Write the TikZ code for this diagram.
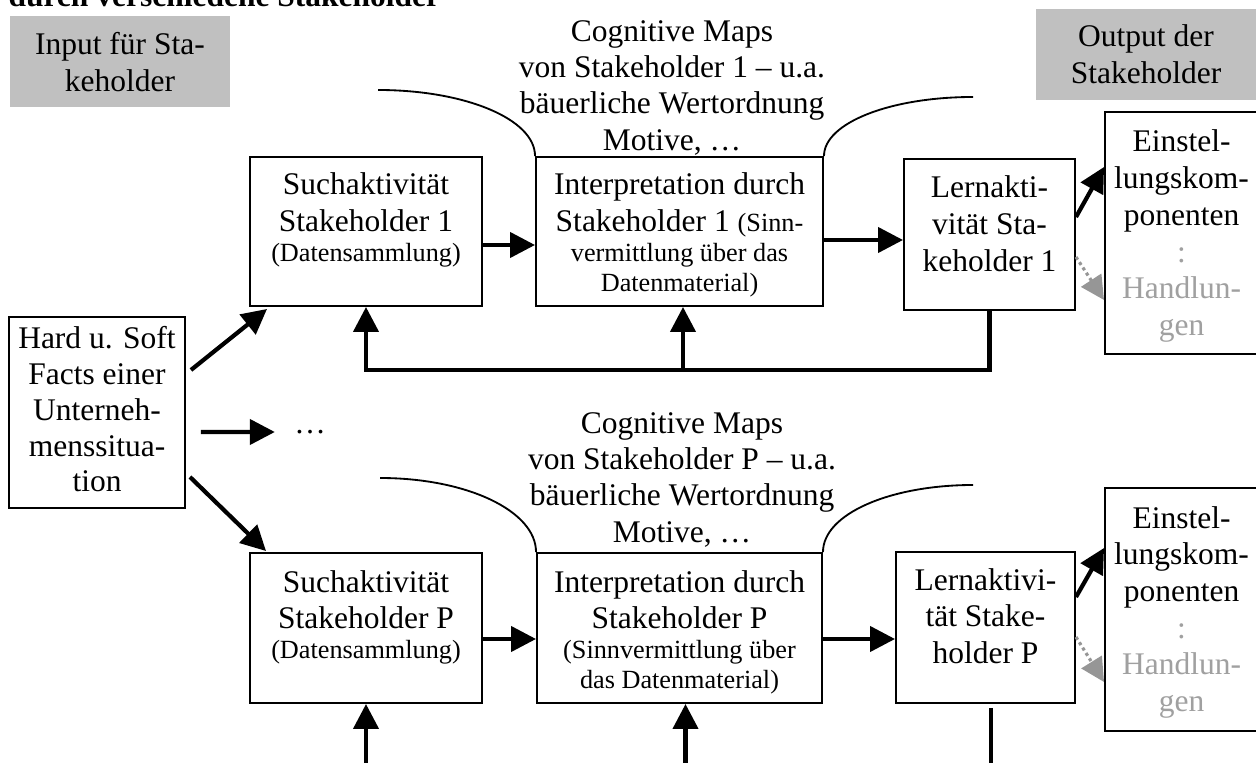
\documentclass[tikz,border=0pt]{standalone}
\usepackage{fontspec}
\setmainfont{Liberation Serif}
\usetikzlibrary{arrows.meta,calc}

% one drawing unit = one pixel of the layout grid
\newdimen\pxu \pxu=0.381pt
\definecolor{panelgray}{RGB}{192,192,192}
\definecolor{softgray}{RGB}{160,160,160}
\definecolor{dotgray}{RGB}{150,150,150}
\newcommand{\mainsz}{\fontsize{12}{14}\selectfont}
\newcommand{\smallsz}{\fontsize{10}{11.45}\selectfont}
% text box: width, height, first baseline below top, content
\newcommand{\tbx}[4]{\parbox[c][#2\pxu][t]{#1\pxu}{\centering\rule{0pt}{#3\pxu}#4\par}}

\tikzset{
  tb/.style={draw, line width=0.75pt, inner sep=0pt, fill=white},
  panel/.style={fill=panelgray, inner sep=0pt},
  plain/.style={inner sep=0pt},
  thk/.style={line width=1.6pt},
  arr/.style={line width=1.6pt, -{Triangle[length=9.5pt,width=9.5pt]}},
  softarr/.style={draw=dotgray, line width=1.2pt, dash pattern=on 1.2pt off 1.2pt,
    -{Triangle[length=9pt,width=9pt,fill=dotgray]}},
  arcline/.style={line width=0.7pt},
}

\begin{document}
\begin{tikzpicture}[x=0.381pt, y=-0.381pt, every node/.append style={font=\mainsz}]
\useasboundingbox (0,0) rectangle (1256,763);
\clip (0,0) rectangle (1256,763);

% heading (partly cut at the top)
\node[plain, anchor=base west, font=\fontsize{12}{14}\selectfont\bfseries] (title) at (8,7)
  {durch verschiedene Stakeholder};

% grey panels
\node[panel] (input) at (120,61.5) {\tbx{220}{91}{39}{Input für Sta-\\keholder}};
\node[panel] (output) at (1146,54.5) {\tbx{220}{91}{38}{Output der\\Stakeholder}};

% captions
\node[plain, anchor=north] (cog1) at (672,10.5)
  {\tbx{380}{155}{30}{\fontsize{12}{13.9}\selectfont Cognitive Maps\\von Stakeholder 1 – u.a.\\bäuerliche Wertordnung\\Motive, …}};
\node[plain, anchor=north] (cogP) at (682,402.5)
  {\tbx{380}{155}{30}{\fontsize{12}{13.9}\selectfont Cognitive Maps\\von Stakeholder P – u.a.\\bäuerliche Wertordnung\\Motive, …}};

% row 1
\node[tb] (such1) at (366,231.5)
  {\tbx{232}{149}{38}{Suchaktivität\\Stakeholder 1\par{\smallsz(Datensammlung)\par}}};
\node[tb] (interp1) at (679.5,231.5)
  {\tbx{287}{149}{38}{Interpretation durch\\Stakeholder 1 {\smallsz(Sinn-}\par{\smallsz vermittlung über das\\Datenmaterial)\par}}};
\node[tb] (lern1) at (989.5,234.5) {\tbx{171}{151}{39}{Lernakti-\\vität Sta-\\keholder 1}};
\node[tb] (einst1) at (1181.5,233)
  {\tbx{153}{242}{40}{Einstel-\\lungskom-\\ponenten\\\textcolor{softgray}{:}\\\textcolor{softgray}{Handlun-}\\\textcolor{softgray}{gen}}};

% source box
\node[tb] (hard) at (97,412.5)
  {\tbx{176}{191}{32}{\fontsize{12}{13.6}\selectfont Hard u. Soft\\Facts einer\\Unterneh-\\menssitua-\\tion}};
\node[plain, inner xsep=7.2pt] (dots) at (310,432) {…};

% row P
\node[tb] (suchP) at (366,628)
  {\tbx{232}{150}{39}{Suchaktivität\\Stakeholder P\par{\smallsz(Datensammlung)\par}}};
\node[tb] (interpP) at (679.5,628)
  {\tbx{285}{150}{39}{Interpretation durch\\Stakeholder P\par{\smallsz(Sinnvermittlung über\\das Datenmaterial)\par}}};
\node[tb] (lernP) at (985.5,627.5) {\tbx{179}{151}{38}{Lernaktivi-\\tät Stake-\\holder P}};
\node[tb] (einstP) at (1181.5,609.5)
  {\tbx{153}{243}{40}{Einstel-\\lungskom-\\ponenten\\\textcolor{softgray}{:}\\\textcolor{softgray}{Handlun-}\\\textcolor{softgray}{gen}}};

% curved caption brackets
\coordinate (a1s) at (378,90);
\coordinate (a1e) at (973,97);
\coordinate (a2s) at (380,478);
\coordinate (a2e) at (973,485);
\draw[arcline] (a1s) .. controls (465,90) and ($(interp1.north west)+(0,-37)$) .. (interp1.north west);
\draw[arcline] (interp1.north east) .. controls ($(interp1.north east)+(0,-33)$) and (890,97) .. (a1e);
\draw[arcline] (a2s) .. controls (467,478) and ($(interpP.north west)+(0,-41)$) .. (interpP.north west);
\draw[arcline] (interpP.north east) .. controls ($(interpP.north east)+(0,-38)$) and (890,485) .. (a2e);

% levels of horizontal connectors
\coordinate (r1a) at (0,245);
\coordinate (r1b) at (0,240);
\coordinate (r2) at (0,639);
\coordinate (fb) at (0,370);
\coordinate (bt) at (0,775);
\coordinate (o1a) at (0,217);
\coordinate (o1b) at (0,167);
\coordinate (o1c) at (0,257);
\coordinate (o1d) at (0,300);
\coordinate (o2a) at (0,597);
\coordinate (o2b) at (0,548);
\coordinate (o2c) at (0,637);
\coordinate (o2d) at (0,682);

% inputs
\draw[arr] ($(hard.east)+(5,-42.5)$) -- ($(such1.south west)+(18,2)$);
\draw[arr] ($(hard.east)+(15,19.5)$) -- (dots.west);
\draw[arr] ($(hard.east)+(4,64.5)$) -- ($(suchP.north west)+(17,-1)$);

% process chains
\draw[arr] (such1.east |- r1a) -- (interp1.west |- r1a);
\draw[arr] (interp1.east |- r1b) -- (lern1.west |- r1b);
\draw[arr] (suchP.east |- r2) -- (interpP.west |- r2);
\draw[arr] (interpP.east |- r2) -- (lernP.west |- r2);

% feedback loop of row 1
\draw[arr] (lern1.south) -- (lern1.south |- fb) -| (such1.south);
\draw[arr] ($(interp1.south |- fb)+(3.5,0)$) -- ($(interp1.south)+(3.5,0)$);

% feedback loop of row P (leaving the picture)
\draw[arr] (suchP.south |- bt) -- (suchP.south);
\draw[arr] ($(interpP.south |- bt)+(6,0)$) -- ($(interpP.south)+(6,0)$);
\draw[thk] ($(lernP.south)+(5.5,4)$) -- ($(lernP.south |- bt)+(5.5,0)$);

% outputs
\draw[arr] (lern1.east |- o1a) -- (einst1.west |- o1b);
\draw[softarr] (lern1.east |- o1c) -- (einst1.west |- o1d);
\draw[arr] (lernP.east |- o2a) -- (einstP.west |- o2b);
\draw[softarr] (lernP.east |- o2c) -- (einstP.west |- o2d);
\end{tikzpicture}
\end{document}
